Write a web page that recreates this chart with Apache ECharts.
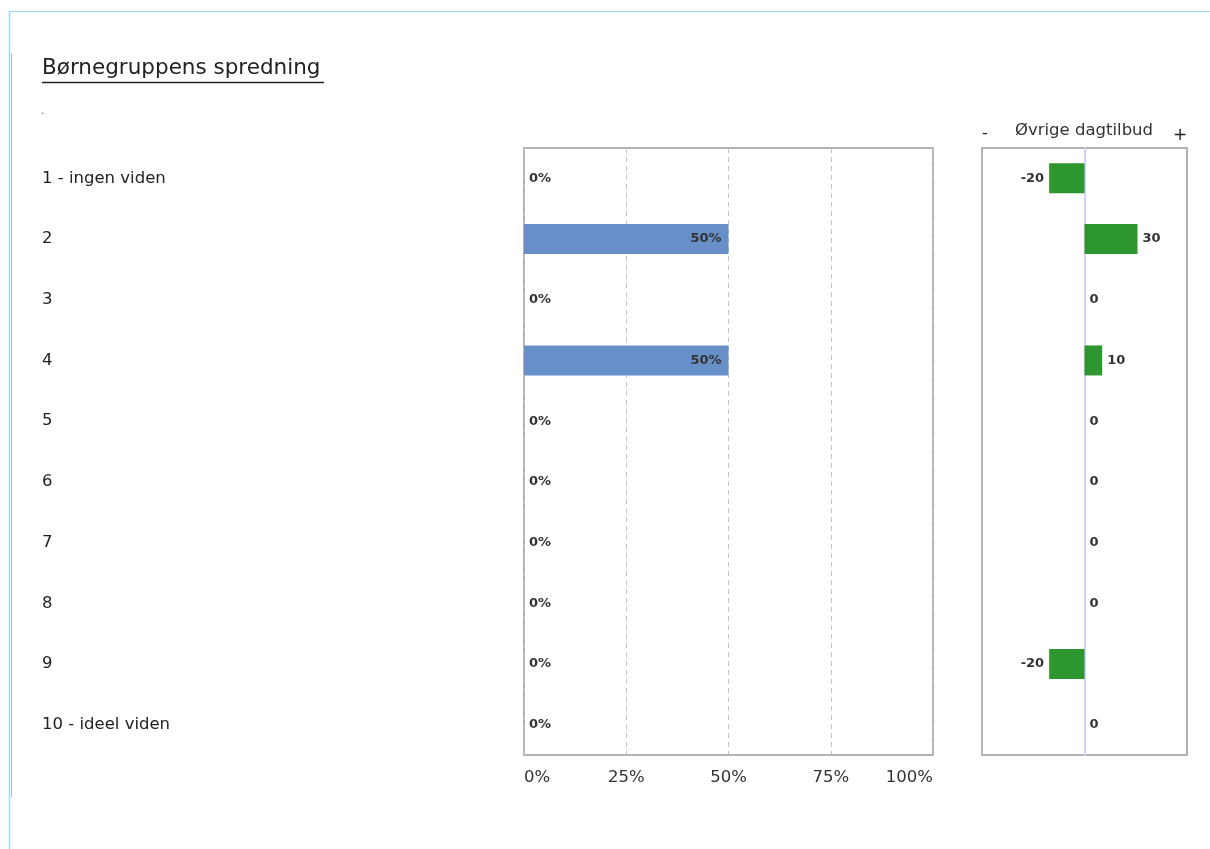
<!DOCTYPE html>
<html>
<head>
<meta charset="utf-8">
<script src="https://cdn.jsdelivr.net/npm/echarts@6/dist/echarts.min.js"></script>
<style>
html,body{margin:0;padding:0;background:#fff;}
#chart{width:1210px;height:849px;}
</style>
</head>
<body>
<div id="chart"></div>
<script>
const titleText = 'Børnegruppens spredning';
const categories = ['1 - ingen viden','2','3','4','5','6','7','8','9','10 - ideel viden'];
const shareValues = [0, 50, 0, 50, 0, 0, 0, 0, 0, 0];
const diffValues = [-20, 30, 0, 10, 0, 0, 0, 0, -20, 0];
const pctTicks = ['0%','25%','50%','75%','100%'];
const rightHeader = 'Øvrige dagtilbud';

const FONT = '"DejaVu Sans", Verdana, sans-serif';
const chart = echarts.init(document.getElementById('chart'));

const shareData = shareValues.map(v => ({
  value: v,
  label: v > 0
    ? { position: 'insideRight', distance: 7 }
    : { position: 'right', distance: 5 }
}));
const diffData = diffValues.map(v => ({
  value: v,
  label: { position: v < 0 ? 'left' : 'right', distance: 5 }
}));

const labelStyle = { show: true, fontFamily: FONT, fontSize: 13, fontWeight: 'bold', color: '#333' };

chart.setOption({
  animation: false,
  backgroundColor: '#fff',
  graphic: [
    { type: 'line', shape: { x1: 10, y1: 11.5, x2: 1210, y2: 11.5 }, style: { stroke: '#9fd6f4', lineWidth: 1 } },
    { type: 'line', shape: { x1: 9.5, y1: 11, x2: 9.5, y2: 849 }, style: { stroke: '#9fd6f4', lineWidth: 1.5 } },
    { type: 'line', shape: { x1: 11.5, y1: 53, x2: 11.5, y2: 797 }, style: { stroke: '#b8b8b8', lineWidth: 1 } },
    { type: 'text', left: 42, top: 57, style: { text: titleText, font: '21.5px ' + FONT, fill: '#222' } },
    { type: 'line', shape: { x1: 42, y1: 82.5, x2: 324, y2: 82.5 }, style: { stroke: '#222', lineWidth: 1.5 } },
    { type: 'text', left: 41, top: 106, style: { text: '.', font: '11px ' + FONT, fill: '#555' } },
    { type: 'text', left: 982, top: 126, style: { text: '-', font: '16px ' + FONT, fill: '#222' } },
    { type: 'text', x: 1084, y: 131, style: { text: rightHeader, font: '16.5px ' + FONT, fill: '#333', textAlign: 'center', textVerticalAlign: 'middle' } },
    { type: 'text', left: 1173, top: 127, style: { text: '+', font: '17px ' + FONT, fill: '#222' } }
  ],
  grid: [
    { left: 524, top: 148, width: 409, height: 607, show: true, borderColor: '#9a9a9a', borderWidth: 1.5, containLabel: false },
    { left: 982, top: 148, width: 205, height: 607, show: true, borderColor: '#9a9a9a', borderWidth: 1.5, containLabel: false }
  ],
  xAxis: [
    {
      gridIndex: 0, type: 'value', min: 0, max: 100, interval: 25,
      axisLine: { show: false }, axisTick: { show: false },
      axisLabel: {
        margin: 14, fontFamily: FONT, fontSize: 16.5, color: '#333',
        formatter: v => pctTicks[Math.round(v / 25)],
        alignMinLabel: 'left', alignMaxLabel: 'right'
      },
      splitLine: { show: true, lineStyle: { color: '#c4c4c4', type: [5, 4], width: 1 } }
    },
    {
      gridIndex: 1, type: 'value', min: -58, max: 58,
      axisLine: { show: false }, axisTick: { show: false }, axisLabel: { show: false },
      splitLine: { show: false }
    }
  ],
  yAxis: [
    {
      gridIndex: 0, type: 'category', data: categories, inverse: true,
      axisLine: { show: false }, axisTick: { show: false },
      axisLabel: { align: 'left', margin: 482, fontFamily: FONT, fontSize: 16.5, color: '#222', padding: [7, 0, 0, 0] }
    },
    {
      gridIndex: 1, type: 'category', data: categories, inverse: true,
      axisLine: { show: true, onZero: true, lineStyle: { color: '#d2d2f2', width: 2 } },
      axisTick: { show: false }, axisLabel: { show: false }
    }
  ],
  series: [
    {
      type: 'bar', xAxisIndex: 0, yAxisIndex: 0, data: shareData, barWidth: 30,
      itemStyle: { color: '#6790c8' },
      label: Object.assign({}, labelStyle, { formatter: '{c}%' })
    },
    {
      type: 'bar', xAxisIndex: 1, yAxisIndex: 1, data: diffData, barWidth: 30,
      itemStyle: { color: '#2e962f' },
      label: Object.assign({}, labelStyle, { formatter: '{c}' })
    }
  ]
});
</script>
</body>
</html>
